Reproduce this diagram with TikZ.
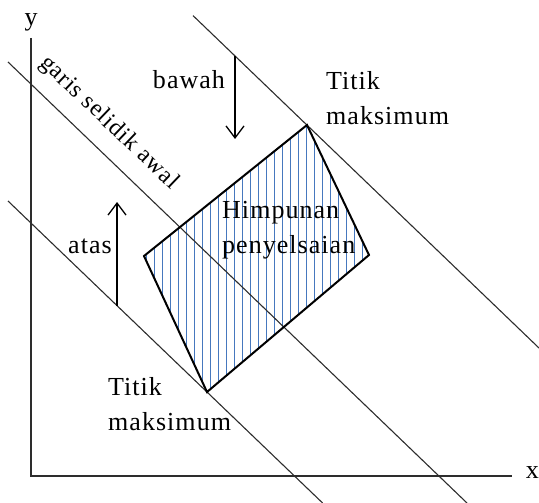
\documentclass[tikz,border=0pt]{standalone}
\usepackage{fontspec}
\newfontfamily\lblfont{Liberation Serif}[LetterSpace=4]
\usetikzlibrary{arrows.meta}
\definecolor{hatchblue}{RGB}{70,120,190}
\definecolor{linegray}{RGB}{45,45,45}
\tikzset{
 lp axis/.style={line width=1.8pt,draw=linegray},
 lp level/.style={line width=1.1pt,draw=linegray},
 lp region/.style={line width=2pt,draw=black,line join=miter},
 lp hatch/.style={line width=1pt,draw=hatchblue},
 lp shift/.style={line width=1.3pt,-{Straight Barb[length=12pt,width=18pt]}},
 lp label/.style={font=\lblfont\fontsize{26}{35}\selectfont,inner sep=0pt,align=left}
}

\begin{document}
\begin{tikzpicture}[x=1pt,y=-1pt]
 \useasboundingbox (0,0) rectangle (539,503);
 % axes
 \coordinate (o) at (31,476);
 \coordinate (ytop) at (31,38);
 \coordinate (xend) at (512,476);
 \draw[lp axis] (ytop)--(o)--(xend);
 \node[lp label] (ylab) at (31,22) {y};
 \node[lp label,anchor=east] (xlab) at (539,473) {x};
 % feasible region, hatched
 \coordinate (r1) at (144,256);
 \coordinate (r2) at (307,125);
 \coordinate (r3) at (369,255);
 \coordinate (r4) at (207,392);
 \begin{scope}
  \clip (r1)--(r2)--(r3)--(r4)--cycle;
  \foreach \x in {146,154,...,370}{\draw[lp hatch] (\x,120)--(\x,400);}
 \end{scope}
 % level lines
 \coordinate (l1a) at (193,15.6);
 \coordinate (l1b) at (539,348);
 \coordinate (l2a) at (8,62);
 \coordinate (l2b) at (467,503);
 \coordinate (l3a) at (8,201);
 \coordinate (l3b) at (322.6,503);
 \foreach \l in {l1,l2,l3}{\draw[lp level] (\l a)--(\l b);}
 \draw[lp region] (r1)--(r2)--(r3)--(r4)--cycle;
 % shift arrows
 \coordinate (b0) at (235,56.5);
 \coordinate (b1) at (235,139);
 \coordinate (a0) at (117,306);
 \coordinate (a1) at (117,202);
 \draw[lp shift] (b0)--(b1);
 \draw[lp shift] (a0)--(a1);
 % labels
 \node[lp label] (bawah) at (189,80) {bawah};
 \node[lp label] (atas) at (90,246) {atas};
 \node[lp label,font=\lblfont\fontsize{24}{30}\selectfont,rotate=-43.8]
   (garis) at (109,123) {garis selidik awal};
 \node[lp label,anchor=west] (hp) at (222,230) {Himpunan\\penyelsaian};
 \node[lp label,anchor=west] (tmax) at (326,98) {Titik\\maksimum};
 \node[lp label,anchor=west] (tmin) at (108,404) {Titik\\maksimum};
\end{tikzpicture}
\end{document}
